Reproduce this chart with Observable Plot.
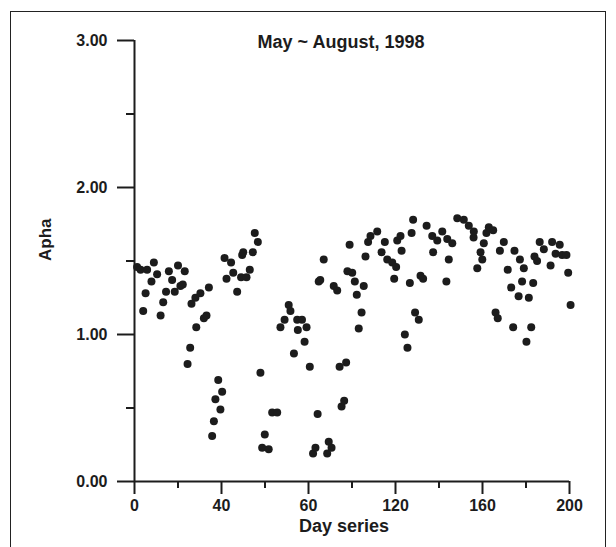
<!DOCTYPE html>
<html><head><meta charset="utf-8">
<script src="https://cdn.jsdelivr.net/npm/d3@7"></script>
<script src="https://cdn.jsdelivr.net/npm/@observablehq/plot@0.6"></script>
<style>
body{margin:0;background:#fff;}
#wrap{position:relative;width:616px;height:547px;overflow:hidden;}
#frame{position:absolute;left:10px;top:11px;width:596px;height:600px;border:1.5px solid #222;box-sizing:border-box;pointer-events:none;}
svg{display:block;}
</style></head><body><div id="wrap"><div id="frame"></div></div>
<script>
const title = "May ~ August, 1998";
const xLabel = "Day series";
const yLabel = "Apha";
const days = [1.2,2.8,4.0,5.1,5.8,7.8,8.9,10.4,12.0,13.2,14.5,15.8,17.3,18.5,20.0,21.1,22.2,23.1,24.4,25.6,26.2,28.0,28.4,30.3,31.9,33.1,34.2,35.7,36.5,37.2,38.5,39.5,40.3,41.4,42.3,44.4,45.4,47.2,49.0,49.5,50.0,51.5,53.0,54.4,55.3,56.7,57.9,58.7,59.9,61.7,63.3,65.6,67.1,69.0,70.9,71.7,73.3,74.8,75.1,77.0,78.2,79.1,80.6,82.1,83.2,84.2,84.7,85.4,87.0,88.6,89.3,90.6,91.6,93.2,94.3,95.2,96.4,97.3,97.9,98.9,100.1,101.3,102.2,103.1,104.4,105.4,106.2,107.4,108.5,111.6,113.6,115.1,116.2,118.5,119.4,120.3,120.8,122.3,122.8,124.3,125.5,126.6,127.4,128.1,129.0,130.7,131.5,132.7,134.3,136.9,137.3,139.2,141.5,143.4,143.8,144.5,146.1,148.4,151.4,153.7,155.9,156.0,157.6,159.1,159.9,160.6,161.8,162.9,164.9,166.0,167.0,168.0,169.8,171.6,173.2,174.1,174.7,176.6,177.2,178.2,179.0,180.2,181.3,182.4,183.3,183.9,185.1,186.3,188.2,191.3,192.0,193.6,195.5,196.6,198.6,199.4,200.5];
const apha = [1.46,1.44,1.16,1.28,1.44,1.36,1.49,1.41,1.13,1.22,1.29,1.43,1.37,1.29,1.47,1.33,1.34,1.43,0.80,0.91,1.21,1.25,1.05,1.28,1.11,1.13,1.32,0.31,0.41,0.56,0.69,0.49,0.61,1.52,1.38,1.49,1.42,1.29,1.39,1.54,1.56,1.39,1.44,1.56,1.69,1.63,0.74,0.23,0.32,0.22,0.47,0.47,1.05,1.10,1.20,1.16,0.87,1.10,1.03,1.10,0.95,1.05,0.78,0.19,0.23,0.46,1.36,1.37,1.51,0.19,0.27,0.23,1.33,1.30,0.78,0.51,0.55,0.81,1.43,1.61,1.42,1.36,1.27,1.04,1.15,1.33,1.53,1.63,1.67,1.70,1.56,1.63,1.51,1.49,1.38,1.46,1.64,1.67,1.57,1.00,0.91,1.35,1.69,1.78,1.15,1.10,1.40,1.38,1.74,1.67,1.56,1.64,1.70,1.36,1.65,1.51,1.62,1.79,1.78,1.74,1.66,1.70,1.45,1.56,1.51,1.62,1.69,1.73,1.71,1.15,1.11,1.57,1.63,1.44,1.32,1.05,1.57,1.26,1.51,1.36,1.45,0.95,1.25,1.05,1.35,1.53,1.50,1.63,1.58,1.47,1.63,1.55,1.61,1.54,1.54,1.42,1.20];
const xTickValues = [0,40,80,120,160,200];
const xTickLabels = ["0","40","60","120","160","200"];
const xMinorTicks = [20,60,100,140,180];
const yTickValues = [0,1,2,3];
const yTickLabels = ["0.00","1.00","2.00","3.00"];
const yMinorTicks = [0.5,1.5,2.5];

const data = days.map((d,i)=>({day:d, apha:apha[i]}));
const ink = "#1c1c1c";
const font = "'Liberation Sans', Arial, sans-serif";

const chart = Plot.plot({
  width: 616, height: 547,
  marginLeft: 134, marginRight: 47, marginTop: 40, marginBottom: 66,
  style: {fontFamily: font, fontWeight: "bold", color: ink, background: "transparent"},
  x: {domain: [0,200], label: null},
  y: {domain: [0,3], label: null},
  marks: [
    Plot.axisX({ticks: xMinorTicks, tickSize: 7, text: null, stroke: ink, strokeWidth: 2, label: null}),
    Plot.axisX({ticks: xTickValues, tickSize: 13, tickPadding: 5, strokeWidth: 2, stroke: ink, fill: ink,
      tickFormat: d => xTickLabels[xTickValues.indexOf(d)], fontSize: 16, fontWeight: "bold", label: null}),
    Plot.axisY({ticks: yMinorTicks, tickSize: 8, text: null, stroke: ink, strokeWidth: 2, label: null}),
    Plot.axisY({ticks: yTickValues, tickSize: 17, tickPadding: 10, strokeWidth: 2, stroke: ink, fill: ink,
      tickFormat: d => yTickLabels[yTickValues.indexOf(d)], fontSize: 16, fontWeight: "bold", label: null}),
    Plot.ruleY([0], {stroke: ink, strokeWidth: 2}),
    Plot.ruleX([0], {stroke: ink, strokeWidth: 2}),
    Plot.dot(data, {x: "day", y: "apha", r: 4, fill: ink, stroke: "none"}),
    Plot.text([title], {frameAnchor: "top", dx: -11, dy: -5, fontSize: 18, fontWeight: "bold", fill: ink}),
    Plot.text([xLabel], {frameAnchor: "bottom", dx: -8, dy: 50, fontSize: 18, fontWeight: "bold", fill: ink}),
    Plot.text([yLabel], {frameAnchor: "left", dx: -89, dy: 0, rotate: -90, fontSize: 17, fontWeight: "bold", fill: ink})
  ]
});
document.getElementById("wrap").prepend(chart);
</script>
</body></html>
